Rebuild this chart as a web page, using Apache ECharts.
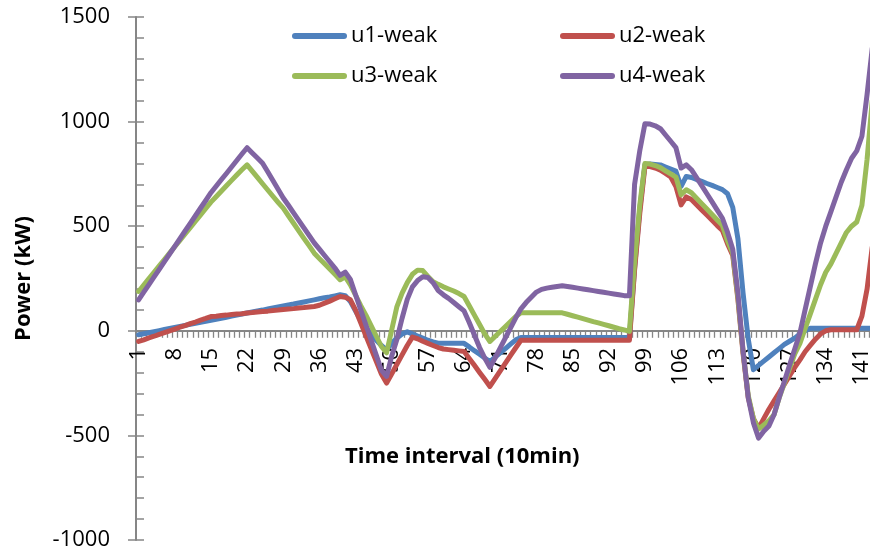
<!DOCTYPE html>
<html>
<head>
<meta charset="utf-8">
<script src="https://cdn.jsdelivr.net/npm/echarts@6/dist/echarts.min.js"></script>
<style>
html,body{margin:0;padding:0;background:#fff;}
#chart{width:870px;height:554px;}
</style>
</head>
<body>
<div id="chart"></div>
<script>
// categories 1..144 (time intervals of 10 min)
var categories = [];
for (var i = 1; i <= 144; i++) categories.push(String(i));

var seriesNames = ['u1-weak', 'u2-weak', 'u3-weak', 'u4-weak'];

var u1 = [
 -19,-14,-9,-4,1,6,11,16,21,26,31,36,41,45,50,
 55,60,65,70,75,80,85,90,95,99,104,109,114,119,124,
 128,133,138,143,148,153,158,162,167,172,
 168,140,95,50,15,-15,-45,-70,-91,-60,
 -35,-15,-5,-15,-25,-35,-45,-53,-59,-60,
 -60,-60,-60,-60,-77,-95,-112,-130,-147,-126,
 -105,-85,-64,-43,
 -32,-32,-32,-32,-32,-32,-32,-32,-32,-32,-32,
 -32,-32,-32,-32,-32,-32,-32,-32,-32,-32,-32,
 300,580,795,797,795,793,783,773,763,690,
 738,733,723,714,704,695,685,675,655,590,
 440,180,-40,-186,-165,-145,-125,-105,-85,-65,
 -50,-35,-15,0,12,
 12,12,12,12,12,12,12,12,12,12,12,12,12
];

var u2 = [
 -51,-43,-34,-26,-17,-9,0,8,17,25,34,42,51,59,68,
 70,73,75,78,80,82,85,87,90,92,94,97,99,102,104,
 106,109,111,114,116,122,132,142,153,164,
 160,148,99,38,-24,-85,-146,-207,-250,-205,
 -160,-115,-70,-30,-38,-50,-60,-70,-80,-87,
 -90,-93,-96,-99,-132,-165,-199,-232,-266,-229,
 -192,-155,-118,-81,
 -45,-45,-45,-45,-45,-45,-45,-45,-45,-45,-45,
 -45,-45,-45,-45,-45,-45,-45,-45,-45,-45,-45,
 290,560,785,785,778,768,752,735,690,602,
 640,628,603,578,553,528,503,480,415,360,
 150,-110,-320,-420,-465,-420,-375,-335,-295,-255,
 -215,-175,-139,-100,-70,-40,-15,0,
 5,5,5,5,5,5,
 70,200,400,450
];

var u3 = [
 188,219,249,280,310,341,371,402,432,463,493,524,554,585,615,
 641,667,693,719,745,770,793,763,733,703,673,643,614,586,550,
 514,478,442,407,371,345,320,295,270,244,
 258,220,170,120,75,25,-25,-75,-105,5,
 116,180,230,270,290,288,260,235,222,210,
 200,190,178,164,120,75,30,-15,-51,-27,
 -3,20,44,68,
 86,86,86,86,86,86,86,86,86,
 79,72,65,58,51,44,38,31,24,17,10,4,-3,
 330,600,800,797,790,780,765,750,735,650,
 674,660,634,608,582,556,530,504,430,370,
 160,-100,-310,-420,-470,-450,-430,-400,-320,-250,
 -180,-110,-60,10,80,150,220,280,320,370,
 420,470,500,520,600,820,1100,1150
];

var u4 = [
 148,185,221,258,294,331,367,404,440,477,513,550,587,623,660,
 691,722,752,783,814,845,875,850,826,801,760,718,677,635,600,
 564,528,492,456,420,390,360,330,300,265,
 280,245,172,100,28,-44,-116,-188,-218,-120,
 -40,60,150,210,240,258,255,230,192,172,
 155,135,115,95,40,-20,-80,-130,-175,-130,
 -82,-34,14,62,
 105,135,160,185,198,204,208,212,215,
 212,208,204,200,196,192,188,184,180,176,172,168,167,
 700,860,990,988,980,966,936,906,876,778,
 793,770,732,694,655,616,577,538,470,390,
 180,-96,-320,-440,-513,-480,-455,-400,-318,-241,
 -164,-87,-11,100,210,320,420,500,570,640,
 710,770,825,860,930,1130,1350,1450
];

var yTicks = { min: -1000, max: 1500, major: 500, minor: 100 };
var colors = ['#4F81BD', '#C0504D', '#9BBB59', '#8064A2'];
var seriesData = [u1, u2, u3, u4];

var FONT = '"Open Sans", "Liberation Sans", sans-serif';
var capsule = 'path://M3,0H52A3,3,0,0,1,52,6H3A3,3,0,0,1,3,0Z';

var GRID_TOP = 17, GRID_H = 523;
// distance of the value-0 line above the bottom of the grid (x axis sits on zero)
var zeroOffset = GRID_H * (0 - yTicks.min) / (yTicks.max - yTicks.min);

function legendAt(name, left, top) {
  return {
    data: [name], left: left, top: top, padding: 0, orient: 'horizontal',
    icon: capsule, itemWidth: 55, itemHeight: 6,
    textStyle: { fontFamily: FONT, fontSize: 22, color: '#000', padding: [0, 0, 0, -1] },
    selectedMode: false
  };
}

var chart = echarts.init(document.getElementById('chart'), null, { renderer: 'canvas' });

var option = {
  backgroundColor: '#ffffff',
  animation: false,
  textStyle: { fontFamily: FONT },
  title: {
    text: 'Time interval (10min)', left: 345, top: 446, padding: 0,
    textStyle: { fontFamily: FONT, fontSize: 22, fontWeight: 'bold', color: '#000' }
  },
  legend: [
    legendAt(seriesNames[0], 292, 25),
    legendAt(seriesNames[1], 560, 25),
    legendAt(seriesNames[2], 292, 65),
    legendAt(seriesNames[3], 560, 65)
  ],
  grid: { left: 136, top: GRID_TOP, width: 744, height: GRID_H, containLabel: false, outerBoundsMode: 'none' },
  xAxis: {
    type: 'category', data: categories, boundaryGap: true, position: 'bottom', z: 0,
    offset: -zeroOffset,
    axisLine: { onZero: false, lineStyle: { color: '#868686', width: 2 } },
    axisTick: { show: true, interval: 0, length: 7, lineStyle: { color: '#868686', width: 1.3 } },
    axisLabel: { interval: 6, rotate: 90, margin: 17, fontSize: 22, color: '#000', fontFamily: FONT,
                 hideOverlap: false },
    splitLine: { show: false }
  },
  yAxis: [
    {
      type: 'value', position: 'left', min: yTicks.min, max: yTicks.max, interval: yTicks.major,
      name: 'Power (kW)', nameLocation: 'middle', nameGap: 101,
      nameTextStyle: { fontFamily: FONT, fontSize: 22, fontWeight: 'bold', color: '#000' },
      axisLine: { show: true, onZero: false, lineStyle: { color: '#868686', width: 2 } },
      axisTick: { show: true, length: 8, lineStyle: { color: '#868686', width: 1.5 } },
      axisLabel: { margin: 26, fontSize: 22, color: '#000', fontFamily: FONT,
                   formatter: function (v) { return String(v); } },
      splitLine: { show: false }
    },
    {
      type: 'value', position: 'left', offset: 0, min: yTicks.min, max: yTicks.max, interval: yTicks.minor,
      axisLine: { show: false, onZero: false },
      axisTick: { show: true, inside: true, length: 8, lineStyle: { color: '#868686', width: 1.5 } },
      axisLabel: { show: false },
      splitLine: { show: false }
    }
  ],
  series: seriesNames.map(function (n, k) {
    return {
      name: n, type: 'line', data: seriesData[k], yAxisIndex: 0,
      symbol: 'none', showSymbol: false, smooth: false,
      itemStyle: { color: colors[k] },
      lineStyle: { color: colors[k], width: 5, join: 'round', cap: 'round' },
      z: 5 + k
    };
  })
};
chart.setOption(option);
</script>
</body>
</html>
